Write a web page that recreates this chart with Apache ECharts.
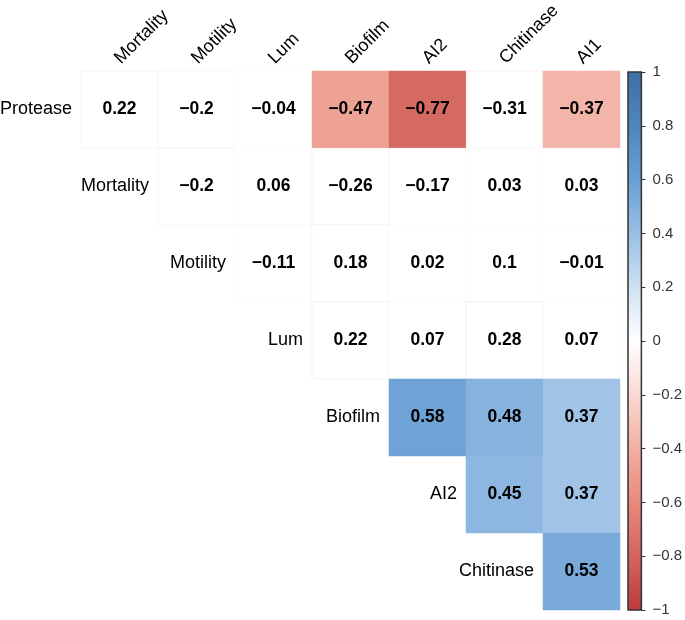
<!DOCTYPE html>
<html>
<head>
<meta charset="utf-8">
<script src="https://cdn.jsdelivr.net/npm/echarts@6/dist/echarts.min.js"></script>
<style>html,body{margin:0;padding:0;background:#fff;}#c{width:685px;height:620px;}</style>
</head>
<body>
<div id="c"></div>
<script>
const rowNames = ['Protease','Mortality','Motility','Lum','Biofilm','AI2','Chitinase'];
const colNames = ['Mortality','Motility','Lum','Biofilm','AI2','Chitinase','AI1'];
// upper-triangle correlation values, each row starts at column index = row index
const rProtease  = [0.22, -0.2, -0.04, -0.47, -0.77, -0.31, -0.37];
const rMortality = [-0.2, 0.06, -0.26, -0.17, 0.03, 0.03];
const rMotility  = [-0.11, 0.18, 0.02, 0.1, -0.01];
const rLum       = [0.22, 0.07, 0.28, 0.07];
const rBiofilm   = [0.58, 0.48, 0.37];
const rAI2       = [0.45, 0.37];
const rChitinase = [0.53];
// significance flags (coloured cells)
const sProtease  = [0,0,0,1,1,0,1];
const sMortality = [0,0,0,0,0,0];
const sMotility  = [0,0,0,0,0];
const sLum       = [0,0,0,0];
const sBiofilm   = [1,1,1];
const sAI2       = [1,1];
const sChitinase = [1];
const colorbarTicks = [-1,-0.8,-0.6,-0.4,-0.2,0,0.2,0.4,0.6,0.8,1];
const palette = ['#BC3A3E','#D2645E','#E7897B','#F2AFA2','#F9D9D3','#FFFFFF','#CFE1F2','#98BEE4','#6A9FD3','#5085BC','#3D6EA3'];

const rowVals = [rProtease,rMortality,rMotility,rLum,rBiofilm,rAI2,rChitinase];
const rowSig = [sProtease,sMortality,sMotility,sLum,sBiofilm,sAI2,sChitinase];
const cellData = [];
rowVals.forEach((vals, i) => {
  vals.forEach((v, k) => { cellData.push([i + k, i, v, rowSig[i][k]]); });
});
const fmt = v => (v < 0 ? '\u2212' : '') + String(Math.abs(Math.round(v*100)/100));
const FONT = '"Liberation Sans", Arial, sans-serif';

const chart = echarts.init(document.getElementById('c'), null, {renderer:'canvas'});
chart.setOption({
  backgroundColor:'#fff',
  animation:false,
  grid:[
    {left:81, top:71, width:539, height:539},
    {left:628, top:72, width:19, height:538}
  ],
  xAxis:[
    {type:'category', gridIndex:0, data:colNames, position:'top', show:false},
    {type:'category', gridIndex:1, data:['cb'], show:false}
  ],
  yAxis:[
    {type:'category', gridIndex:0, data:rowNames, inverse:true, show:false},
    {type:'value', gridIndex:1, min:colorbarTicks[0], max:colorbarTicks[colorbarTicks.length-1], interval:0.2,
     position:'right', axisLine:{show:false}, splitLine:{show:false},
     axisTick:{show:true, length:4, lineStyle:{color:'#333', width:1}},
     axisLabel:{margin:11, fontSize:15, color:'#333', fontFamily:FONT,
       formatter:v => fmt(Math.round(v*10)/10)}}
  ],
  visualMap:{type:'continuous', show:false, min:-1, max:1, dimension:2, seriesIndex:0, inRange:{color:palette}},
  series:[
    {type:'custom', xAxisIndex:0, yAxisIndex:0, data:cellData, encode:{x:0,y:1},
     renderItem:function(params, api){
       const c = api.coord([api.value(0), api.value(1)]);
       const s = api.size([1,1]);
       const v = api.value(2), sig = api.value(3);
       const col = api.visual('color');
       return {type:'group', children:[
         {type:'rect', shape:{x:c[0]-s[0]/2, y:c[1]-s[1]/2, width:s[0], height:s[1]},
          style:{fill: sig ? col : '#fff', stroke: sig ? col : echarts.color.modifyAlpha(col, 0.25), lineWidth: sig ? 0.5 : 1}},
         {type:'text', style:{text:fmt(v), x:c[0], y:c[1], align:'center', verticalAlign:'middle',
          fontSize:17.5, fontWeight:'bold', fontFamily:FONT, fill:'#000'}}
       ]};
     }},
    {type:'custom', xAxisIndex:0, yAxisIndex:0, data:rowNames.map((n,i)=>[i,i]), encode:{x:0,y:1},
     renderItem:function(params, api){
       const i = api.value(1);
       const c = api.coord([i, i]);
       const s = api.size([1,1]);
       return {type:'text', style:{text:rowNames[i], x:c[0]-s[0]/2-9, y:c[1], align:'right', verticalAlign:'middle',
         fontSize:18, fontFamily:FONT, fill:'#000'}};
     }},
    {type:'custom', xAxisIndex:0, yAxisIndex:0, data:colNames.map((n,j)=>[j,0]), encode:{x:0,y:1},
     renderItem:function(params, api){
       const j = api.value(0);
       const c = api.coord([j, 0]);
       const s = api.size([1,1]);
       return {type:'text', x:c[0]-2, y:c[1]-s[1]/2-10, rotation:Math.PI/4,
         style:{text:colNames[j], x:0, y:0, align:'left', verticalAlign:'middle',
         fontSize:18, fontFamily:FONT, fill:'#000'}};
     }},
    {type:'custom', xAxisIndex:1, yAxisIndex:1, data:[[0, colorbarTicks[0], colorbarTicks[colorbarTicks.length-1]]],
     renderItem:function(params, api){
       const top = api.coord([0, api.value(2)]);
       const bot = api.coord([0, api.value(1)]);
       const w = api.size([1,0])[0];
       const stops = palette.map((c,k)=>({offset:1 - k/(palette.length-1), color:c}));
       stops.reverse();
       return {type:'rect', shape:{x:top[0]-w/2, y:top[1], width:w, height:bot[1]-top[1]},
         style:{fill:new echarts.graphic.LinearGradient(0,0,0,1,stops), stroke:'#333', lineWidth:1.5}};
     }}
  ]
});
</script>
</body>
</html>
